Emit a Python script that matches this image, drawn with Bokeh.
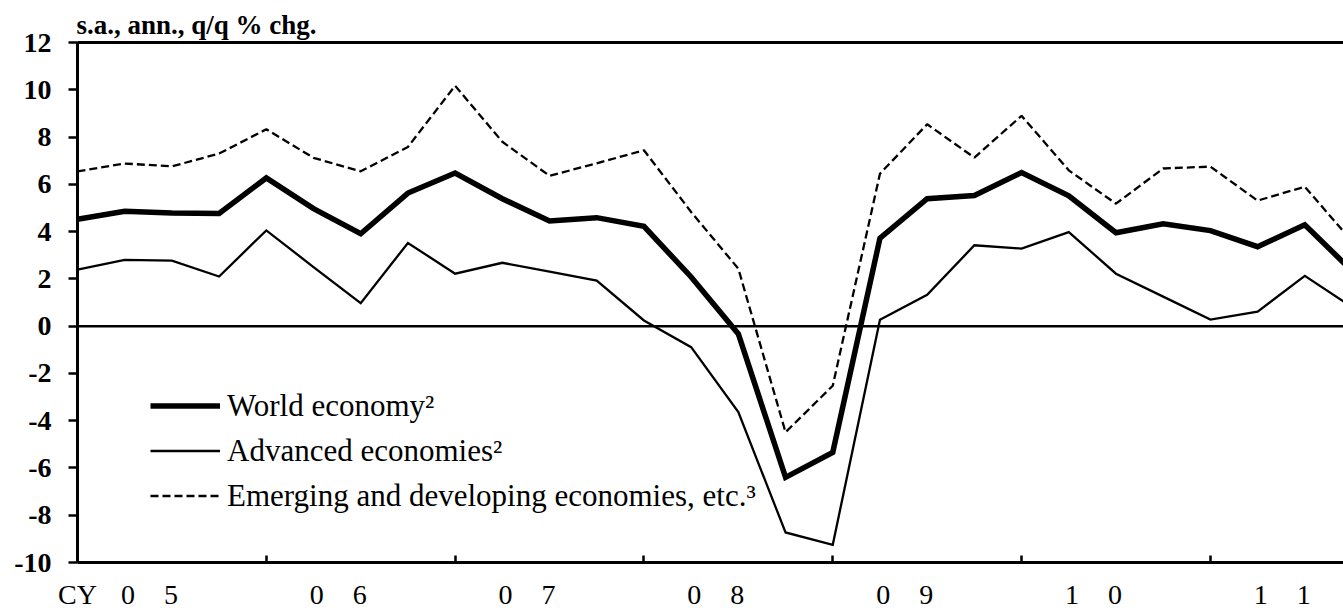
from bokeh.plotting import figure
from bokeh.models import (Range1d, LinearAxis, FixedTicker, Span, Legend, LegendItem)
from bokeh.embed import file_html
from bokeh.resources import INLINE

# ---- data (s.a., ann., q/q % chg.), 2005Q1 .. 2011Q4 ----
quarters = [f"{y}Q{q}" for y in range(2005, 2012) for q in range(1, 5)]
world = [4.52, 4.86, 4.79, 4.77, 6.27, 4.97, 3.91, 5.63,
         6.48, 5.39, 4.45, 4.59, 4.22, 2.08, -0.33, -6.40,
         -5.34, 3.72, 5.39, 5.53, 6.50, 5.51, 3.95, 4.33,
         4.04, 3.36, 4.29, 2.34]
advanced = [2.39, 2.80, 2.77, 2.10, 4.05, 2.50, 0.97, 3.52,
            2.22, 2.68, 2.31, 1.93, 0.24, -0.89, -3.64, -8.73,
            -9.25, 0.27, 1.33, 3.42, 3.28, 3.98, 2.22, 1.25,
            0.28, 0.61, 2.13, 0.81]
emerging = [6.55, 6.88, 6.76, 7.30, 8.33, 7.12, 6.55, 7.58,
            10.17, 7.80, 6.36, 6.89, 7.44, 4.83, 2.43, -4.49,
            -2.52, 6.45, 8.54, 7.13, 8.90, 6.59, 5.18, 6.67,
            6.75, 5.31, 5.90, 3.59]
year_labels = ["05", "06", "07", "08", "09", "10", "11"]
y_ticks = list(range(-10, 13, 2))
unit_label = "s.a., ann., q/q % chg."
series_names = ["World economy\u00b2", "Advanced economies\u00b2",
                "Emerging and developing economies, etc.\u00b3"]

x = list(range(len(quarters)))
FONT = "'Liberation Serif', 'Times New Roman', serif"

W, H = 1343, 612
LEFT, TOP, BOTTOM = 77, 42, 49
FRAME_W = W - LEFT
X_END = 26.82
QPX = FRAME_W / X_END             # pixels per quarter

p = figure(width=W, height=H, output_backend="svg", toolbar_location=None,
           x_range=Range1d(0, X_END), y_range=Range1d(-10, 12),
           min_border_left=LEFT, min_border_right=0, min_border_top=TOP,
           min_border_bottom=BOTTOM, x_axis_location=None, y_axis_location=None)
p.grid.visible = False
p.outline_line_color = None
p.background_fill_color = "white"
p.border_fill_color = "white"

# unit label as title
p.title.text = unit_label
p.title.align = "left"
p.title.offset = -1
p.title.standoff = 5
p.title.text_font = FONT
p.title.text_font_size = "27px"
p.title.text_font_style = "bold"
p.title.text_color = "black"

# left axis
yax = LinearAxis(ticker=FixedTicker(ticks=y_ticks))
yax.axis_line_width = 3
yax.major_tick_line_width = 2.5
yax.major_tick_out = 9
yax.major_tick_in = 0
yax.minor_tick_line_color = None
yax.major_label_standoff = 17
yax.major_label_overrides = {t: str(t) for t in y_ticks}
yax.major_label_text_font = FONT
yax.major_label_text_font_size = "28px"
yax.major_label_text_font_style = "bold"
yax.major_label_text_color = "black"
p.add_layout(yax, "left")

# bottom axis: year boundary ticks
year_ticks = [4 * i for i in range(1, len(year_labels))]
xax = LinearAxis(ticker=FixedTicker(ticks=year_ticks))
xax.axis_line_width = 3
xax.major_tick_line_width = 2.5
xax.major_tick_in = 7
xax.major_tick_out = 0
xax.minor_tick_line_color = None
xax.major_label_standoff = 0
xax.major_label_overrides = {t: "" for t in year_ticks}
p.add_layout(xax, "below")

# second bottom axis carrying the "CY 0 5 ..." labels
lab_pos = [0.0]
lab_txt = ["CY"]
for i, lab in enumerate(year_labels):
    centre = 4 * i + 2
    lab_pos.append(round(centre - 44 / QPX, 3))
    lab_txt.append(lab[0])
    lab_pos.append(round(centre - 1 / QPX, 3))
    lab_txt.append(lab[1])
lax = LinearAxis(ticker=FixedTicker(ticks=lab_pos))
lax.axis_line_color = None
lax.major_tick_line_color = None
lax.minor_tick_line_color = None
lax.major_tick_in = 0
lax.major_tick_out = 0
lax.major_label_standoff = 16
lax.major_label_overrides = dict(zip(lab_pos, lab_txt))
lax.major_label_text_font = FONT
lax.major_label_text_font_size = "28px"
lax.major_label_text_color = "black"
p.add_layout(lax, "below")

# top border
tax = LinearAxis(ticker=FixedTicker(ticks=[]))
tax.axis_line_width = 3
tax.major_tick_line_color = None
tax.minor_tick_line_color = None
tax.major_label_standoff = 0
tax.major_label_text_font_size = "0px"
p.add_layout(tax, "above")

# zero line
p.add_layout(Span(location=0, dimension="width", line_color="black", line_width=2.5))

r_world = p.line(x, world, line_color="black", line_width=5.5, line_join="miter")
r_adv = p.line(x, advanced, line_color="black", line_width=2.3, line_join="miter")
r_em = p.line(x, emerging, line_color="black", line_width=2.3, line_dash="8 4")

legend = Legend(items=[LegendItem(label=series_names[0], renderers=[r_world]),
                       LegendItem(label=series_names[1], renderers=[r_adv]),
                       LegendItem(label=series_names[2], renderers=[r_em])],
                location=(73, 44), glyph_width=70, glyph_height=45, label_height=45,
                spacing=0, padding=0, margin=0, label_standoff=7,
                border_line_color=None, background_fill_alpha=0,
                label_text_font=FONT, label_text_font_size="31px",
                label_text_color="black")
p.add_layout(legend)

open("out.html", "w").write(file_html(p, INLINE))
